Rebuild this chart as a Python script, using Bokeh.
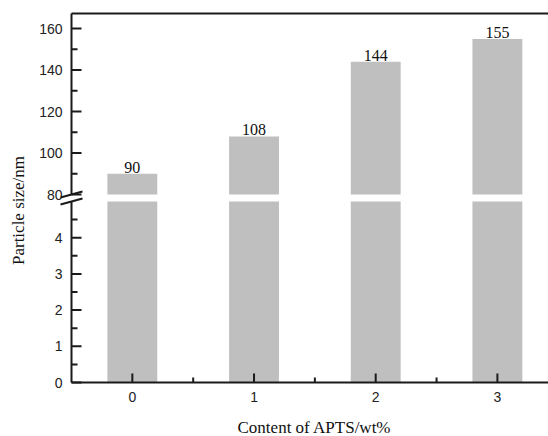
import math
from bokeh.plotting import figure
from bokeh.models import ColumnDataSource, Range1d, Label
from bokeh.core.properties import value
from bokeh.embed import file_html
from bokeh.resources import INLINE

# ---- data ----
content = [0, 1, 2, 3]
particle_size = [90, 108, 144, 155]
size_labels = ["90", "108", "144", "155"]
x_ticks = [0, 1, 2, 3]
x_tick_labels = ["0", "1", "2", "3"]
x_minor = [0.5, 1.5, 2.5]
upper_ticks = [80, 100, 120, 140, 160]
upper_tick_labels = ["80", "100", "120", "140", "160"]
upper_minor = [90, 110, 130, 150]
lower_ticks = [0, 1, 2, 3, 4]
lower_tick_labels = ["0", "1", "2", "3", "4"]
lower_minor = [0.5, 1.5, 2.5, 3.5, 4.5]

# ---- broken y axis configuration ----
upper_lo, upper_hi = 80, 167.2      # upper segment of the broken y axis
lower_lo, lower_hi = 0, 5           # lower segment of the broken y axis
x_lo, x_hi = -0.5, 3.42             # x extent of the plotting area

# ---- pixel geometry ----
W, H = 548, 436
AXIS_X = 71          # screen x of the y axis
AXIS_Y = 382         # screen y of the x axis (value 0)
BREAK_UP_Y = 194     # screen y where the upper segment starts
BREAK_LOW_Y = 201    # screen y where the lower segment ends
PX_X = (W - AXIS_X) / (x_hi - x_lo)
PX_LOW = (AXIS_Y - BREAK_LOW_Y) / (lower_hi - lower_lo)
PX_UP = 2.075
BAR_W = 0.41
MARK_W, MARK_H = 11, 3

BAR = "#bfbfbf"
AX = "#1a1a1a"
TXT = "#222222"
SANS = "Liberation Sans"
SERIF = "Liberation Serif"

x_range = Range1d(x_lo - AXIS_X / PX_X, x_hi)
low_range = Range1d(lower_lo - (H - AXIS_Y) / PX_LOW, lower_lo + AXIS_Y / PX_LOW)
up_range = Range1d(upper_lo - (H - BREAK_UP_Y) / PX_UP, upper_lo + BREAK_UP_Y / PX_UP)

p = figure(width=W, height=H, x_range=x_range, y_range=low_range,
           output_backend="svg", toolbar_location=None,
           x_axis_location=None, y_axis_location=None,
           min_border_left=0, min_border_right=0, min_border_top=0, min_border_bottom=0)
p.extra_y_ranges = {"up": up_range}
p.grid.visible = False
p.outline_line_color = None
p.background_fill_color = "white"
p.border_fill_color = "white"

src = ColumnDataSource(dict(x=content, y=particle_size, label=size_labels,
                            ylow=[min(v, lower_hi) for v in particle_size]))

# ---- bars, split by the axis break ----
p.vbar(x="x", top="ylow", bottom=lower_lo, width=BAR_W, source=src,
       fill_color=BAR, line_color=None)
p.vbar(x="x", top="y", bottom=upper_lo, width=BAR_W, source=src,
       fill_color=BAR, line_color=None, y_range_name="up")
p.text(x="x", y="y", text="label", source=src, y_range_name="up",
       text_align="center", text_baseline="bottom", text_font=value(SERIF),
       text_font_size="16px", text_color="#111111", y_offset=-1)

# ---- broken y axis: two segments, each on its own scale ----
dx_maj, dx_min = 10 / PX_X, 6 / PX_X
for rng, lo, hi, ticks, tlabels, minor in (
        ("default", lower_lo, lower_hi, lower_ticks, lower_tick_labels, lower_minor),
        ("up", upper_lo, upper_hi, upper_ticks, upper_tick_labels, upper_minor)):
    p.segment(x0=[x_lo], y0=[lo], x1=[x_lo], y1=[hi], line_width=2,
              line_color=AX, y_range_name=rng)
    p.segment(x0=[x_lo] * len(ticks), y0=ticks, x1=[x_lo + dx_maj] * len(ticks), y1=ticks,
              line_width=2, line_color=AX, y_range_name=rng)
    p.segment(x0=[x_lo] * len(minor), y0=minor, x1=[x_lo + dx_min] * len(minor), y1=minor,
              line_width=2, line_color=AX, y_range_name=rng)
    p.text(x=[x_lo] * len(ticks), y=ticks, text=tlabels, x_offset=-9,
           text_align="right", text_baseline="middle", text_font=value(SANS),
           text_font_size="14px", text_color=TXT, y_range_name=rng)

# slanted break marks at both ends of the break
p.segment(x0=[x_lo - MARK_W / PX_X], y0=[upper_lo - MARK_H / PX_UP],
          x1=[x_lo + MARK_W / PX_X], y1=[upper_lo + MARK_H / PX_UP],
          line_width=2, line_color=AX, y_range_name="up")
p.segment(x0=[x_lo - MARK_W / PX_X], y0=[lower_hi - MARK_H / PX_LOW],
          x1=[x_lo + MARK_W / PX_X], y1=[lower_hi + MARK_H / PX_LOW],
          line_width=2, line_color=AX)

# top border of the plotting area
p.segment(x0=[x_lo], y0=[upper_hi], x1=[x_hi], y1=[upper_hi],
          line_width=2, line_color=AX, y_range_name="up")

# ---- x axis ----
p.segment(x0=[x_lo], y0=[lower_lo], x1=[x_hi], y1=[lower_lo], line_width=2, line_color=AX)
p.segment(x0=x_ticks, y0=[lower_lo] * len(x_ticks), x1=x_ticks,
          y1=[lower_lo + 9 / PX_LOW] * len(x_ticks), line_width=2, line_color=AX)
p.segment(x0=x_minor, y0=[lower_lo] * len(x_minor), x1=x_minor,
          y1=[lower_lo + 5 / PX_LOW] * len(x_minor), line_width=2, line_color=AX)
p.text(x=x_ticks, y=[lower_lo] * len(x_ticks), text=x_tick_labels, y_offset=9,
       text_align="center", text_baseline="top", text_font=value(SANS),
       text_font_size="14px", text_color=TXT)

# ---- axis titles ----
p.add_layout(Label(x=x_lo + (314 - AXIS_X) / PX_X, y=lower_lo - (427 - AXIS_Y) / PX_LOW,
                   text="Content of APTS/wt%", text_align="center",
                   text_baseline="middle", text_font=SERIF, text_font_size="17px",
                   text_color="#111111"))
p.add_layout(Label(x=x_lo - (AXIS_X - 18) / PX_X, y=lower_lo + (AXIS_Y - 210) / PX_LOW,
                   text="Particle size/nm", angle=math.pi / 2,
                   text_align="center", text_baseline="middle",
                   text_font=SERIF, text_font_size="17px", text_color="#111111"))

open("out.html", "w").write(file_html(p, INLINE))
